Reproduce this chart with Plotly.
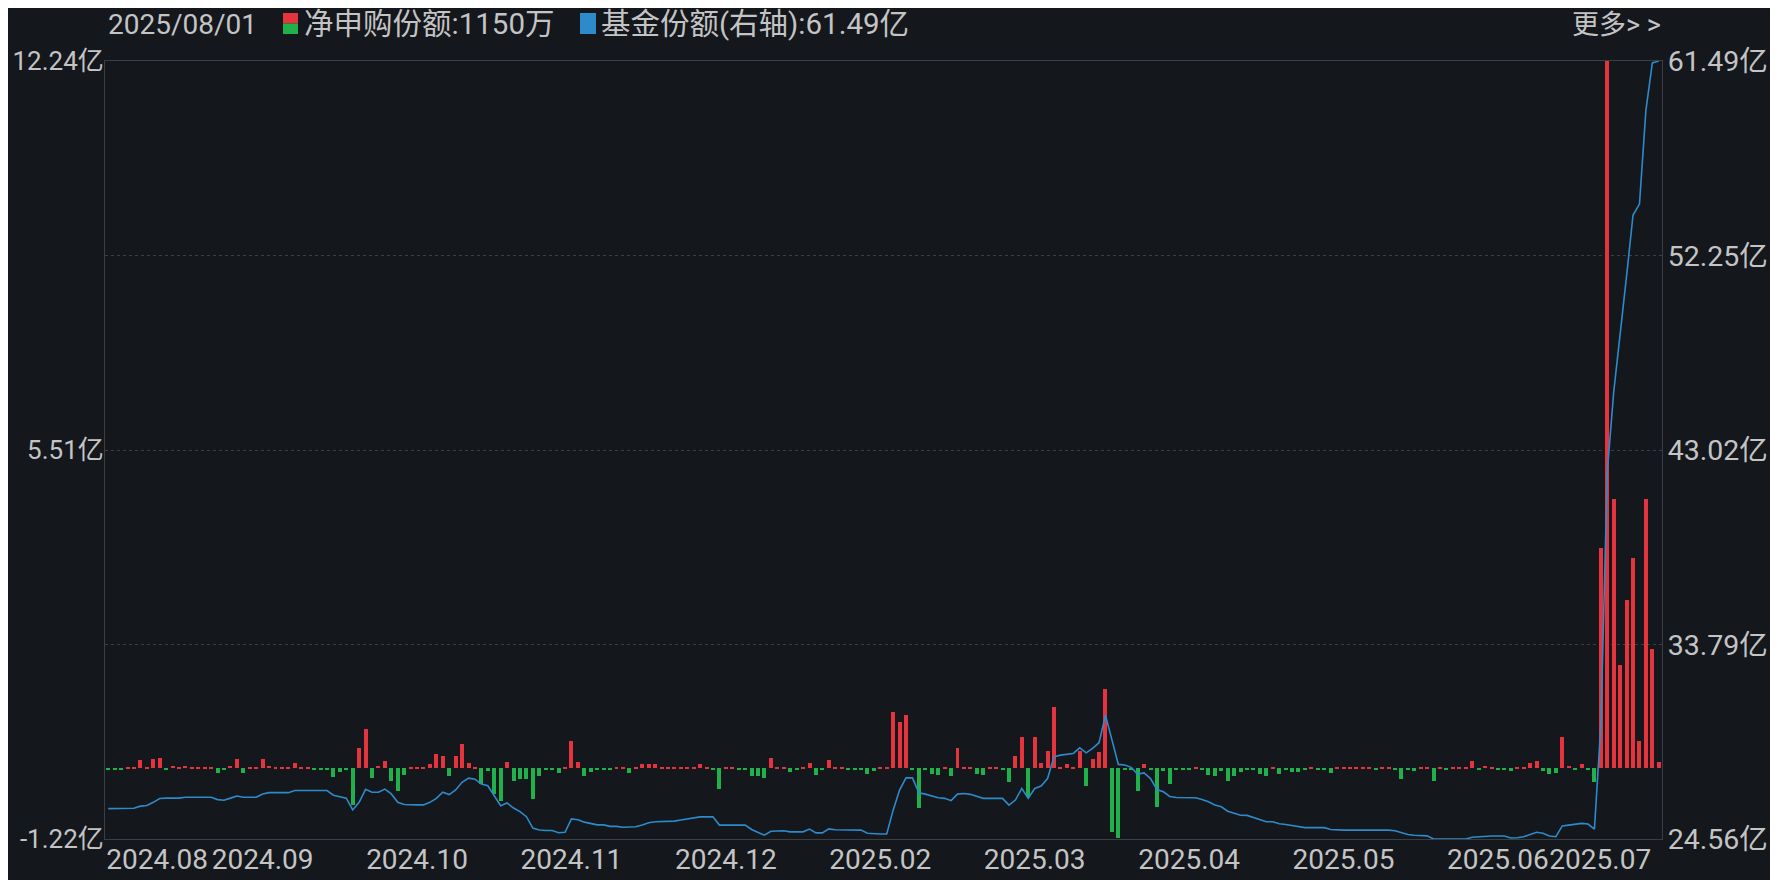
import pandas as pd
import plotly.graph_objects as go

# trading days shown on the chart (A-share calendar)
holidays = ["2024-09-16", "2024-09-17", "2024-10-01", "2024-10-02", "2024-10-03",
            "2024-10-04", "2024-10-07", "2025-01-01", "2025-01-28", "2025-01-29",
            "2025-01-30", "2025-01-31", "2025-02-03", "2025-02-04", "2025-04-04",
            "2025-05-01", "2025-05-02", "2025-05-05", "2025-06-02"]
days = pd.bdate_range("2024-08-02", "2025-08-01")
days = days[~days.isin(pd.to_datetime(holidays))]
dates = [d.strftime("%Y/%m/%d") for d in days]

# 净申购份额 (亿)
net_sub = [
    -0.02, -0.02, -0.02, 0.02, 0.02, 0.14, 0.02, 0.16, 0.19, -0.03,
    0.035, 0.02, 0.045, 0.02, 0.02, 0.02, 0.02, -0.08, -0.02, 0.05,
    0.16, -0.08, 0.02, 0.02, 0.17, 0.035, 0.02, 0.02, 0.02, 0.09,
    0.02, 0.02, -0.02, -0.02, -0.02, -0.15, -0.06, -0.02, -0.63, 0.35,
    0.675, -0.17, 0.045, 0.13, -0.22, -0.39, -0.12, 0.02, 0.02, 0.03,
    0.07, 0.25, 0.22, -0.13, 0.22, 0.43, 0.10, 0.03, -0.27, -0.035,
    -0.44, -0.56, 0.12, -0.22, -0.18, -0.18, -0.53, -0.13, -0.02, -0.02,
    -0.07, 0.02, 0.48, 0.12, -0.13, -0.06, -0.02, -0.02, -0.02, 0.02,
    0.02, -0.07, 0.02, 0.07, 0.085, 0.07, 0.02, 0.02, 0.03, 0.03,
    0.03, 0.03, 0.07, 0.02, -0.02, -0.35, 0.02, 0.02, -0.02, -0.02,
    -0.13, -0.13, -0.16, 0.19, 0.02, 0.02, -0.065, -0.02, 0.02, 0.10,
    -0.115, -0.03, 0.155, 0.02, 0.02, -0.02, -0.02, -0.02, -0.10, -0.045,
    0.02, 0.02, 0.97, 0.80, 0.92, -0.02, -0.69, -0.02, -0.10, -0.115,
    0.02, -0.13, 0.36, 0.02, 0.02, -0.10, -0.115, 0.02, 0.02, -0.02,
    -0.23, 0.21, 0.54, -0.49, 0.54, 0.10, 0.31, 1.07, 0.03, 0.07,
    0.02, 0.31, -0.31, 0.17, 0.28, 1.37, -1.10, -1.21, -0.02, -0.02,
    -0.39, 0.08, -0.03, -0.67, -0.04, -0.27, -0.02, -0.02, -0.02, 0.02,
    -0.02, -0.115, -0.13, -0.05, -0.22, -0.13, -0.06, -0.02, -0.02, -0.09,
    -0.13, 0.02, -0.09, -0.02, -0.06, -0.06, -0.02, 0.02, -0.02, -0.02,
    -0.075, 0.02, 0.02, 0.02, 0.02, 0.02, 0.02, -0.02, 0.02, 0.02,
    -0.02, -0.185, -0.02, -0.05, 0.02, 0.02, -0.22, 0.02, -0.02, 0.02,
    0.02, 0.02, 0.13, -0.02, 0.035, 0.02, -0.02, -0.02, -0.05, 0.02,
    0.02, 0.09, 0.13, -0.035, -0.09, -0.07, 0.54, 0.035, -0.02, 0.075,
    -0.02, -0.24, 3.81, 12.24, 4.67, 1.79, 2.91, 3.65, 0.48, 4.66,
    2.06, 0.115,
]

# 基金份额 (亿, 右轴)
fund_shares = [
    26.0, 26.0, 26.0, 26.0, 26.02, 26.12, 26.15, 26.3, 26.48, 26.5,
    26.5, 26.5, 26.54, 26.54, 26.54, 26.54, 26.54, 26.43, 26.4, 26.5,
    26.6, 26.54, 26.54, 26.54, 26.7, 26.76, 26.76, 26.76, 26.76, 26.86,
    26.86, 26.86, 26.86, 26.86, 26.86, 26.64, 26.57, 26.5, 25.94, 26.3,
    26.92, 26.78, 26.78, 26.93, 26.7, 26.3, 26.2, 26.18, 26.18, 26.18,
    26.3, 26.49, 26.78, 26.67, 26.89, 27.25, 27.45, 27.4, 27.17, 27.09,
    26.61, 26.14, 26.27, 26.03, 25.86, 25.62, 25.08, 24.99, 24.96, 24.96,
    24.86, 24.88, 25.51, 25.47, 25.36, 25.28, 25.23, 25.23, 25.16, 25.16,
    25.12, 25.13, 25.14, 25.22, 25.33, 25.38, 25.38, 25.38, 25.41, 25.46,
    25.5, 25.56, 25.61, 25.61, 25.61, 25.22, 25.22, 25.22, 25.22, 25.22,
    25.01, 24.87, 24.74, 24.93, 24.95, 24.95, 24.9, 24.9, 24.9, 25.03,
    24.85, 24.85, 25.04, 25.0, 25.0, 25.0, 24.98, 24.98, 24.83, 24.8,
    24.8, 24.8, 25.93, 26.88, 27.46, 27.46, 26.75, 26.69, 26.6, 26.52,
    26.49, 26.38, 26.69, 26.72, 26.68, 26.57, 26.49, 26.49, 26.49, 26.49,
    26.17, 26.41, 26.96, 26.49, 26.96, 27.07, 27.43, 28.46, 28.54, 28.57,
    28.62, 28.89, 28.65, 28.86, 29.13, 30.44, 29.25, 28.1, 28.07, 27.96,
    27.64, 27.7, 27.43, 26.91, 26.8, 26.58, 26.53, 26.52, 26.52, 26.52,
    26.44, 26.33, 26.17, 26.09, 25.88, 25.77, 25.69, 25.68, 25.58, 25.49,
    25.38, 25.38, 25.28, 25.25, 25.2, 25.14, 25.1, 25.1, 25.1, 25.1,
    25.01, 24.98, 24.98, 24.98, 24.98, 25.01, 25.01, 24.98, 24.98, 24.98,
    24.95, 24.85, 24.77, 24.74, 24.71, 24.71, 24.56, 24.56, 24.56, 24.56,
    24.56, 24.56, 24.64, 24.67, 24.7, 24.7, 24.7, 24.7, 24.61, 24.62,
    24.67, 24.77, 24.88, 24.83, 24.7, 24.67, 25.18, 25.22, 25.25, 25.3,
    25.27, 25.03, 30.0, 42.0, 45.8, 48.4, 51.3, 54.18, 54.7, 59.16,
    61.4, 61.49,
]

left_ticks = [12.24, 5.51, -1.22]
right_ticks = [61.49, 52.25, 43.02, 33.79, 24.56]
tick_idx = [0, 24, 48, 72, 96, 120, 144, 168, 192, 216, 232]
tick_pos = [7.6, 24, 48, 72, 96, 120, 144, 168, 192, 216, 231.9]

BG = "#14171c"
RED = "#e5343d"
GREEN = "#21b14b"
BLUE = "#2d8bcb"
TXT = "#c4c4c4"
FONT = "Roboto, Noto Sans CJK SC"

# page body adds 8px, so the figure is 8px smaller than the window
OFF = 8
W, H = 1778 - OFF, 880 - OFF
L, R, T, B = 105 - OFF, 116, 61 - OFF, 41

x = list(range(len(dates)))
colors = [RED if v >= 0 else GREEN for v in net_sub]

fig = go.Figure()
fig.add_trace(go.Bar(
    x=x, y=net_sub, marker=dict(color=colors, line=dict(width=0)),
    width=0.62, customdata=dates, hovertemplate="%{customdata}<br>%{y:.3f}亿<extra></extra>",
))
fig.add_trace(go.Scatter(
    x=x, y=fund_shares, yaxis="y2", mode="lines",
    line=dict(color=BLUE, width=1.6), customdata=dates,
    hovertemplate="%{customdata}<br>%{y:.2f}亿<extra></extra>",
))

frame = "#3a3e45"
grid = "#3a3e45"

fig.update_layout(
    width=W, height=H,
    margin=dict(l=L, r=R, t=T, b=B, autoexpand=False),
    paper_bgcolor=BG, plot_bgcolor=BG,
    showlegend=False, bargap=0,
    font=dict(family=FONT, size=28, color=TXT),
    xaxis=dict(
        range=[-0.5, len(dates) - 0.5], showgrid=False, zeroline=False,
        showline=True, linecolor=frame, linewidth=1, mirror=True,
        tickvals=tick_pos,
        ticktext=[days[i].strftime("%Y.%m") for i in tick_idx],
        tickangle=0, ticks="", ticklabelstandoff=-5,
        tickfont=dict(family=FONT, size=28, color=TXT),
    ),
    yaxis=dict(
        range=[-1.22, 12.24], showgrid=False, zeroline=False,
        showline=True, linecolor=frame, linewidth=1,
        tickvals=left_ticks, ticktext=[f"{v:.2f}亿" for v in left_ticks],
        ticks="", ticklabelstandoff=-5,
        tickfont=dict(family=FONT, size=26, color=TXT),
    ),
    yaxis2=dict(
        range=[24.56, 61.49], overlaying="y", side="right",
        showgrid=True, gridcolor=grid, griddash="dot", gridwidth=1,
        zeroline=False, showline=True, linecolor=frame, linewidth=1,
        tickvals=right_ticks, ticktext=[f"{v:.2f}亿" for v in right_ticks],
        ticks="", ticklabelstandoff=-1,
        tickfont=dict(family=FONT, size=28.5, color=TXT),
    ),
)


# helpers: window pixel -> paper coordinate
def px_x(p):
    return (p - 105) / 1557


def px_y(p):
    return (839 - p) / 778


# header legend
last = len(dates) - 1
header = [
    (106, days[last].strftime("%Y/%m/%d"), 28),
    (302, f"净申购份额:{net_sub[last] * 10000:.0f}万", 29.5),
    (599, f"基金份额(右轴):{fund_shares[last]:.2f}亿", 29.5),
]
for px, txt, size in header:
    fig.add_annotation(
        xref="paper", yref="paper", x=px_x(px), y=px_y(24),
        text=txt, showarrow=False, xanchor="left", yanchor="middle",
        font=dict(family=FONT, size=size, color=TXT),
    )
fig.add_annotation(
    xref="paper", yref="paper", x=px_x(1663), y=px_y(25),
    text="更多> >", showarrow=False, xanchor="right", yanchor="middle",
    font=dict(family=FONT, size=27, color=TXT),
)
fig.add_shape(type="rect", xref="paper", yref="paper",
              x0=px_x(283), x1=px_x(298), y0=px_y(13), y1=px_y(23.5),
              fillcolor=RED, line=dict(width=0))
fig.add_shape(type="rect", xref="paper", yref="paper",
              x0=px_x(283), x1=px_x(298), y0=px_y(23.5), y1=px_y(34),
              fillcolor=GREEN, line=dict(width=0))
fig.add_shape(type="rect", xref="paper", yref="paper",
              x0=px_x(580), x1=px_x(596), y0=px_y(13), y1=px_y(34),
              fillcolor=BLUE, line=dict(width=0))

fig.write_html("out.html")
